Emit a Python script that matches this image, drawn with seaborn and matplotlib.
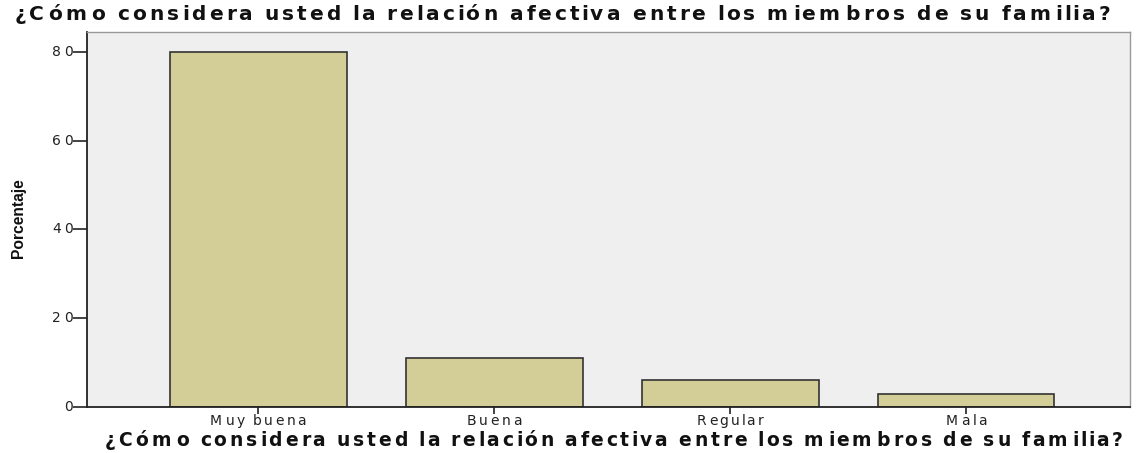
import matplotlib
matplotlib.use("Agg")
import matplotlib.pyplot as plt
from matplotlib import font_manager
import seaborn as sns
import pandas as pd

categories = ["Muy buena", "Buena", "Regular", "Mala"]
percentages = [80.0, 11.0, 6.0, 3.0]
y_ticks = [0, 20, 40, 60, 80]
title_text = "¿Cómo considera usted la relación afectiva entre los miembros de su familia?"
y_label = "Porcentaje"

sns.set_theme(style="white")
plt.rcParams["font.family"] = ["Liberation Sans", "DejaVu Sans"]

W, H = 1136, 453
df = pd.DataFrame({"cat": categories, "pct": percentages})

fig = plt.figure(figsize=(W / 100, H / 100), dpi=100)
ax = fig.add_axes([87 / W, 46 / H, (1130 - 87) / W, (407 - 32) / H])
ax.set_facecolor("#efefef")

sns.barplot(data=df, x="cat", y="pct", order=categories, color="#d3ce97",
            edgecolor="#333333", linewidth=1.2, width=0.75, saturation=1, ax=ax)

ax.set_xlim(-0.725, 3.695)
ax.set_ylim(0, 84.5)
ax.set_yticks(y_ticks)
ax.set_xlabel("")
ax.set_ylabel("")

for s in ["left", "bottom"]:
    ax.spines[s].set_color("#222222")
    ax.spines[s].set_linewidth(1.3)
for s in ["top", "right"]:
    ax.spines[s].set_color("#999999")
    ax.spines[s].set_linewidth(1.0)

ax.tick_params(axis="y", direction="out", length=10, width=1.2, color="#222222",
               left=True, labelleft=False)
ax.tick_params(axis="x", direction="out", length=5, width=1.2, color="#222222",
               bottom=True, labelbottom=False)

renderer = fig.canvas.get_renderer()


def text_width(t, **kw):
    tt = fig.text(0, 0, t, **kw)
    bb = tt.get_window_extent(renderer)
    tt.remove()
    return bb.width


def spaced_text(s, x_px, y_px, width_px, ha="left", **kw):
    """Draw text with extra letter spacing so that it spans width_px pixels."""
    bar = text_width("|", **kw)
    pos = [0.0] + [text_width(s[:i] + "|", **kw) - bar for i in range(1, len(s))]
    w_last = text_width(s[-1], **kw)
    k = (width_px - w_last) / pos[-1] if pos[-1] > 0 else 1.0
    k = max(k, 1.0)
    total = pos[-1] * k + w_last
    if ha == "center":
        x0 = x_px - total / 2
    elif ha == "right":
        x0 = x_px - total
    else:
        x0 = x_px
    for i, c in enumerate(s):
        if c == " ":
            continue
        fig.text((x0 + pos[i] * k) / W, 1 - y_px / H, c, ha="left", va="center", **kw)


# title and x-axis label
title_kw = dict(fontsize=14.5, fontweight="bold", family=["DejaVu Sans"], color="#111111")
spaced_text(title_text, 15, 14, 1095, **title_kw)
xlab_kw = dict(fontsize=13.5, fontweight="bold", family=["DejaVu Sans"], color="#111111")
spaced_text(title_text, 105, 440, 1018, **xlab_kw)

# tick labels
tick_kw = dict(fontsize=10, family=["DejaVu Sans"], color="#222222")
stretch = 96 / text_width("Muy buena", **tick_kw)
for xt, lab in zip(ax.get_xticks(), categories):
    xd, _ = ax.transData.transform((xt, 0))
    wpx = text_width(lab, **tick_kw) * stretch
    spaced_text(lab, xd, 421, wpx, ha="center", **tick_kw)
for yt in ax.get_yticks():
    _, yd = ax.transData.transform((0, yt))
    lab = str(int(yt))
    spaced_text(lab, 73, H - yd, 21, ha="right", **tick_kw)

# y-axis label (condensed look)
names = {f.name for f in font_manager.fontManager.ttflist}
ylab_family = "Liberation Sans Narrow" if "Liberation Sans Narrow" in names else "Liberation Sans"
ylab_kw = dict(fontweight="bold", family=[ylab_family, "DejaVu Sans"], color="#111111")
fs = 10 * 80 / text_width(y_label, fontsize=10, **ylab_kw)
fig.text(19 / W, 1 - 218 / H, y_label, ha="center", va="center", rotation=90,
         fontsize=fs, **ylab_kw)

fig.savefig("out.png", dpi=100, facecolor="white")
